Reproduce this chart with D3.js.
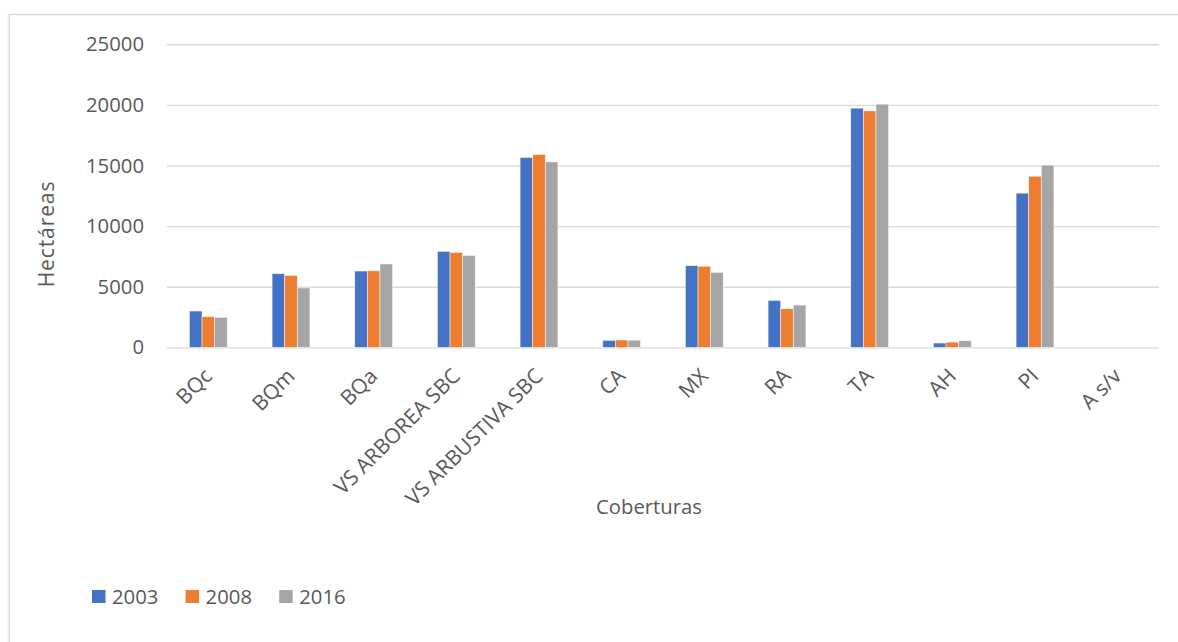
<!DOCTYPE html>
<html>
<head>
<meta charset="utf-8">
<script src="https://cdn.jsdelivr.net/npm/d3@7"></script>
<style>
  html, body { margin: 0; padding: 0; background: #fff; }
  svg { display: block; }
  text { font-family: "Open Sans", "Noto Sans", sans-serif; fill: #595959; }
</style>
</head>
<body>
<div id="chart"></div>
<script>
// Land cover area (hectares) by cover type and year
const categories = ["BQc", "BQm", "BQa", "VS ARBOREA SBC", "VS ARBUSTIVA SBC", "CA", "MX", "RA", "TA", "AH", "PI", "A s/v"];
const seriesNames = ["2003", "2008", "2016"];
const values2003 = [3000, 6080, 6300, 7920, 15670, 580, 6740, 3880, 19730, 360, 12720, 0];
const values2008 = [2530, 5940, 6320, 7840, 15910, 610, 6690, 3190, 19510, 440, 14120, 0];
const values2016 = [2480, 4900, 6880, 7590, 15300, 600, 6190, 3490, 20060, 550, 15030, 0];
const yTicks = [0, 5000, 10000, 15000, 20000, 25000];
const colors = ["#4472C4", "#ED7D31", "#A5A5A5"];

const seriesValues = [values2003, values2008, values2016];
const rows = categories.map((c, i) => ({
  cat: c,
  vals: seriesNames.map((s, j) => ({ key: s, value: seriesValues[j][i] }))
}));

const W = 1178, H = 642;
const FONT = "'Open Sans', 'Noto Sans', sans-serif";
const plot = { left: 167, right: 1159, top: 44.3, bottom: 347.4 };

const svg = d3.select("#chart").append("svg")
  .attr("width", W).attr("height", H);

// Chart frame with soft shadow
const defs = svg.append("defs");
const f = defs.append("filter").attr("id", "shadow")
  .attr("x", "-5%").attr("y", "-5%").attr("width", "110%").attr("height", "110%");
f.append("feDropShadow").attr("dx", 0).attr("dy", 1).attr("stdDeviation", 1.5)
  .attr("flood-color", "#000").attr("flood-opacity", 0.18);
svg.append("rect")
  .attr("x", 9.5).attr("y", 14.5).attr("width", W + 20).attr("height", H + 20)
  .attr("fill", "#fff").attr("stroke", "#d9d9d9").attr("stroke-width", 1.5)
  .attr("filter", "url(#shadow)");

const x0 = d3.scaleBand().domain(categories).range([plot.left, plot.right]).paddingInner(0).paddingOuter(0);
const x1 = d3.scaleBand().domain(seriesNames).range([0, x0.bandwidth()]).paddingInner(0).paddingOuter(1.78);
const y = d3.scaleLinear().domain([0, 25000]).range([plot.bottom, plot.top]);

// Gridlines and value labels
const yAxis = d3.axisLeft(y).tickValues(yTicks).tickSize(-(plot.right - plot.left)).tickPadding(23)
  .tickFormat(d3.format("d"));
const gy = svg.append("g").attr("transform", `translate(${plot.left},0)`).call(yAxis);
gy.select(".domain").remove();
gy.selectAll(".tick line").attr("stroke", "#d9d9d9").attr("stroke-width", 1.4);
gy.selectAll(".tick text").attr("font-size", 20.3).attr("fill", "#595959")
  .style("font-family", FONT);

// Bars
const groups = svg.append("g").selectAll("g").data(rows).join("g")
  .attr("transform", d => `translate(${x0(d.cat)},0)`);
groups.selectAll("rect").data(d => d.vals).join("rect")
  .attr("x", d => x1(d.key))
  .attr("width", x1.bandwidth())
  .attr("y", d => y(d.value))
  .attr("height", d => y(0) - y(d.value))
  .attr("fill", (d, i) => colors[i])
  .attr("stroke", "#fff").attr("stroke-width", 0.7).attr("stroke-opacity", 0.7);

// Category labels, rotated
const xAxis = d3.axisBottom(x0).tickSize(0).tickPadding(0);
const gx = svg.append("g").attr("transform", `translate(0,${plot.bottom})`).call(xAxis);
gx.select(".domain").remove();
gx.selectAll(".tick text")
  .attr("font-size", 21).attr("fill", "#595959")
  .style("font-family", FONT)
  .attr("text-anchor", "end")
  .attr("dy", null).attr("y", 0)
  .attr("transform", "translate(5,30) rotate(-45)");

// Axis titles
svg.append("text").attr("x", 649).attr("y", 514).attr("text-anchor", "middle")
  .attr("font-size", 20.3).text("Coberturas");
svg.append("text").attr("transform", "translate(54,234) rotate(-90)").attr("text-anchor", "middle")
  .attr("font-size", 21).attr("letter-spacing", 0.9).text("Hectáreas");

// Legend
const legend = svg.append("g").attr("transform", "translate(92,590)");
const li = legend.selectAll("g").data(seriesNames).join("g")
  .attr("transform", (d, i) => `translate(${i * 93.6},0)`);
li.append("rect").attr("width", 13.5).attr("height", 13).attr("fill", (d, i) => colors[i]);
li.append("text").attr("x", 20).attr("y", 13.5).attr("font-size", 20.3).text(d => d);
</script>
</body>
</html>
